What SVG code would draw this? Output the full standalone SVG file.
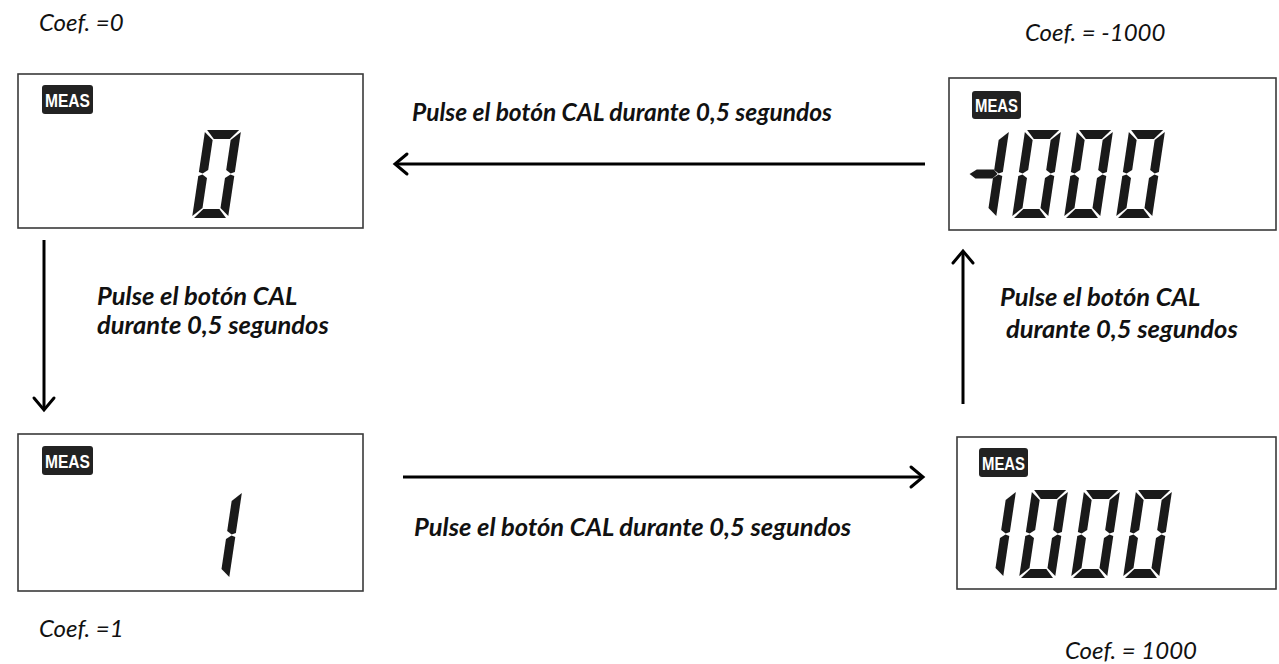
<svg xmlns="http://www.w3.org/2000/svg" xmlns:xlink="http://www.w3.org/1999/xlink" width="1279" height="664" viewBox="0 0 1279 664">
<style>
.box{fill:#fff;stroke:#3a3a3a;stroke-width:1.6}
.badge{fill:#222}
.badgetxt{fill:#fff;font-family:"Liberation Sans",Arial,sans-serif;font-weight:bold;font-size:18px}
.seg{fill:#1a1a1a}
.coef{font-family:Lato,"Open Sans",sans-serif;font-style:italic;font-size:24px;fill:#111}
.lbl{font-family:Lato,"Open Sans",sans-serif;font-style:italic;font-weight:bold;font-size:25.5px;fill:#111}
.conn{stroke:#000;stroke-width:3;fill:none}
.head{stroke:#000;stroke-width:3;fill:none;stroke-linecap:round;stroke-linejoin:miter}
</style>
<defs>
<polygon id="sa" class="seg" points="2,-88 34,-88 26,-79 10,-79"/>
<polygon id="sb" class="seg" points="36,-86 36,-46 32,-44.5 27,-48 27,-78"/>
<polygon id="sc" class="seg" points="32,-43.5 36,-42 36,-2 27,-10 27,-40"/>
<polygon id="sd" class="seg" points="10,-9 26,-9 34,0 2,0"/>
<polygon id="se" class="seg" points="0,-42 4,-43.5 9,-40 9,-10 0,-2"/>
<polygon id="sf" class="seg" points="0,-86 9,-78 9,-48 4,-44.5 0,-46"/>
<polygon id="sg" class="seg" points="3,-44 9.5,-48.5 26.5,-48.5 31,-44 26.5,-39.5 9.5,-39.5"/>
<g id="dig0"><use href="#sa"/><use href="#sb"/><use href="#sc"/><use href="#sd"/><use href="#se"/><use href="#sf"/></g>
<g id="dig1"><use href="#sb"/><use href="#sc"/></g>
<g id="digm1"><use href="#sb"/><use href="#sc"/><use href="#sg"/></g>
</defs>
<rect width="1279" height="664" fill="#fff"/>

<g id="node-coef0">
<rect class="box" x="18" y="74" width="345" height="154"/>
<rect class="badge" x="42" y="85" width="51" height="29" rx="3"/>
<text class="badgetxt" x="67.5" y="106.5" text-anchor="middle" textLength="45" lengthAdjust="spacingAndGlyphs">MEAS</text>
<use href="#dig0" transform="translate(192,218) skewX(-8.5)"/>
</g>

<g id="node-coefm1000">
<rect class="box" x="949" y="78" width="327" height="152"/>
<rect class="badge" x="972" y="91" width="49" height="28" rx="3"/>
<text class="badgetxt" x="996.5" y="111.5" text-anchor="middle" textLength="43" lengthAdjust="spacingAndGlyphs">MEAS</text>
<use href="#digm1" transform="translate(960,218) skewX(-8.5)"/>
<use href="#dig0" transform="translate(1012,218) skewX(-8.5)"/>
<use href="#dig0" transform="translate(1064,218) skewX(-8.5)"/>
<use href="#dig0" transform="translate(1116,218) skewX(-8.5)"/>
</g>

<g id="node-coef1">
<rect class="box" x="18" y="434" width="345" height="157"/>
<rect class="badge" x="42" y="446" width="51" height="29" rx="3"/>
<text class="badgetxt" x="67.5" y="467.5" text-anchor="middle" textLength="45" lengthAdjust="spacingAndGlyphs">MEAS</text>
<use href="#dig1" transform="translate(193,579) skewX(-8.5)"/>
</g>

<g id="node-coef1000">
<rect class="box" x="957" y="437" width="319" height="152"/>
<rect class="badge" x="979" y="448" width="49" height="29" rx="3"/>
<text class="badgetxt" x="1003.5" y="469.5" text-anchor="middle" textLength="43" lengthAdjust="spacingAndGlyphs">MEAS</text>
<use href="#dig1" transform="translate(967,578) skewX(-8.5)"/>
<use href="#dig0" transform="translate(1019,578) skewX(-8.5)"/>
<use href="#dig0" transform="translate(1071,578) skewX(-8.5)"/>
<use href="#dig0" transform="translate(1123,578) skewX(-8.5)"/>
</g>

<g id="coef-labels">
<text class="coef" x="39" y="31">Coef. =0</text>
<text class="coef" x="1025" y="41">Coef. = -1000</text>
<text class="coef" x="39" y="637">Coef. =1</text>
<text class="coef" x="1065" y="659">Coef. = 1000</text>
</g>

<g id="connectors">
<line class="conn" x1="925" y1="164" x2="395" y2="164"/>
<polyline class="head" points="407,154 395,164 407,174"/>
<line class="conn" x1="44" y1="240" x2="44" y2="410"/>
<polyline class="head" points="34,398 44,410 54,398"/>
<line class="conn" x1="403" y1="477" x2="923" y2="477"/>
<polyline class="head" points="911,467 923,477 911,487"/>
<line class="conn" x1="963" y1="404" x2="963" y2="251"/>
<polyline class="head" points="953,263 963,251 973,263"/>
</g>

<g id="connector-labels">
<text class="lbl" x="412" y="121" style="font-size:24.5px">Pulse el botón CAL durante 0,5 segundos</text>
<text class="lbl" x="97" y="305">Pulse el botón CAL</text>
<text class="lbl" x="97" y="334">durante 0,5 segundos</text>
<text class="lbl" x="414" y="536">Pulse el botón CAL durante 0,5 segundos</text>
<text class="lbl" x="1000" y="306">Pulse el botón CAL</text>
<text class="lbl" x="1006" y="338">durante 0,5 segundos</text>
</g>
</svg>
